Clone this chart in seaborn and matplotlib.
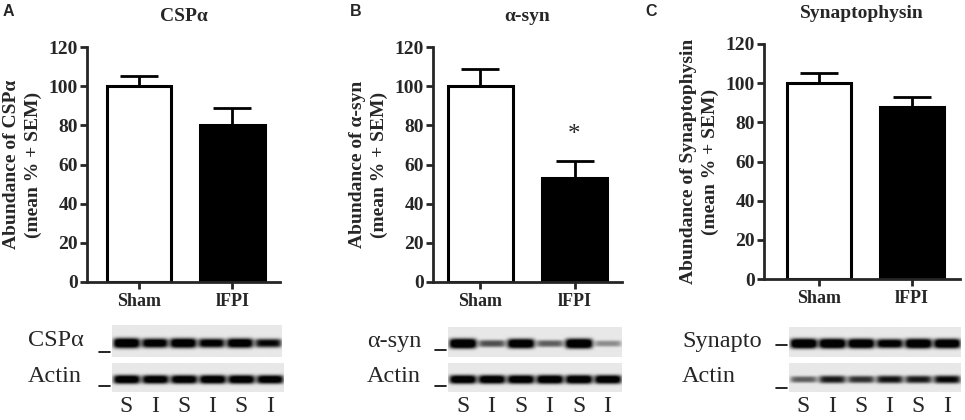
import numpy as np
import pandas as pd
import matplotlib
matplotlib.use("Agg")
import matplotlib.pyplot as plt
import seaborn as sns

# bar data (mean % and SEM)
groups = ["Sham", "lFPI"]
cspa_mean = [100, 80]
cspa_sem = [5, 9]
asyn_mean = [100, 53]
asyn_sem = [9, 9]
syp_mean = [100, 88]
syp_sem = [5, 5]

titles = ["CSP\u03b1", "\u03b1-syn", "Synaptophysin"]
ylabels = ["Abundance of CSP\u03b1\n(mean % + SEM)",
           "Abundance of \u03b1-syn\n(mean % + SEM)",
           "Abundance of Synaptophysin\n(mean % + SEM)"]
letters = ["A", "B", "C"]

# blot band intensities (0 = none, 1 = black), lanes S I S I S I
lane_labels = ["S", "I", "S", "I", "S", "I"]
cspa_bands = [0.97, 0.86, 0.93, 0.82, 0.9, 0.74]
cspa_actin = [0.9, 0.88, 0.88, 0.9, 0.9, 0.88]
asyn_bands = [1.0, 0.5, 0.95, 0.45, 1.0, 0.3]
asyn_actin = [0.9, 0.9, 0.9, 0.92, 0.92, 0.9]
syp_bands = [1.0, 1.0, 0.97, 0.86, 0.98, 0.95]
syp_actin = [0.45, 0.68, 0.6, 0.7, 0.68, 0.75]
blot_names = [("CSP\u03b1", "Actin"), ("\u03b1-syn", "Actin"), ("Synapto", "Actin")]

W, H = 965, 420
SERIF = "Liberation Serif"

sns.set_style("white")
plt.rcParams["font.family"] = [SERIF, "DejaVu Serif"]

fig = plt.figure(figsize=(W / 100, H / 100), dpi=100)


def rect(l, t, r, b):
    return [l / W, 1 - b / H, (r - l) / W, (b - t) / H]


def blot_image(intens, n_rows=30, lane_w=29, yc=0.55):
    y = np.arange(n_rows)[:, None]
    x = np.arange(lane_w * len(intens))[None, :]
    img = np.zeros((n_rows, x.size))
    for i, a in enumerate(intens):
        xc = (i + 0.5) * lane_w
        sy = 2.2 + 2.6 * a
        img += a * np.exp(-((x - xc) / (lane_w * 0.47)) ** 6) * np.exp(-np.abs((y - yc * n_rows) / sy) ** 3)
    return 0.91 - 0.9 * np.clip(1.35 * img, 0, 1)


# layout (pixel geometry per panel)
panels = [
    dict(ax=(87, 47, 280, 282), xlim=(-0.56, 1.51), mean=cspa_mean, sem=cspa_sem,
         b1=(112, 325, 282, 357), b2=(112, 363, 284, 392), lx=28, dash=(352, 386),
         bands=cspa_bands, actin=cspa_actin, letter_x=3),
    dict(ax=(433, 47, 622, 282), xlim=(-0.505, 1.505), mean=asyn_mean, sem=asyn_sem,
         b1=(448, 327, 622, 357), b2=(448, 363, 622, 392), lx=367, dash=(350, 386),
         bands=asyn_bands, actin=asyn_actin, letter_x=350),
    dict(ax=(764, 44, 960, 279), xlim=(-0.59, 1.52), mean=syp_mean, sem=syp_sem,
         b1=(789, 327, 961, 357), b2=(789, 363, 961, 392), lx=682, dash=(345, 388),
         bands=syp_bands, actin=syp_actin, letter_x=645),
]

for k, p in enumerate(panels):
    ax = fig.add_axes(rect(*p["ax"]))
    df = pd.DataFrame({"group": groups, "value": p["mean"]})
    sns.barplot(data=df, x="group", y="value", hue="group",
                palette={"Sham": "white", "lFPI": "black"}, edgecolor="black",
                linewidth=2.2, width=0.69, errorbar=None, legend=False, ax=ax)
    ax.errorbar(x=[0, 1], y=p["mean"], yerr=[[0, 0], p["sem"]], fmt="none",
                ecolor="black", elinewidth=2, capsize=14, capthick=2, zorder=3)
    ax.set_ylim(0, 120)
    ax.set_xlim(*p["xlim"])
    ax.set_yticks(range(0, 121, 20))
    sns.despine(ax=ax)
    for s in ["left", "bottom"]:
        ax.spines[s].set_linewidth(2)
    ax.tick_params(direction="out", length=5, width=2, labelsize=14, pad=1.5,
                   left=True, bottom=True)
    ax.tick_params(axis="x", labelsize=13, pad=3)
    for lbl in ax.get_xticklabels() + ax.get_yticklabels():
        lbl.set_fontweight("bold")
    ax.set_xlabel("")
    ax.set_ylabel(ylabels[k], fontsize=14, fontweight="bold", linespacing=1.3, labelpad=5)
    ax.set_title(titles[k], fontsize=14, fontweight="bold", pad=19)
    if k == 1:
        ax.text(1, 75, "*", ha="center", va="center", fontsize=18)
    fig.text(p["letter_x"] / W, 1 - 12 / H, letters[k], fontsize=11.5, fontweight="bold",
             family="Liberation Sans", va="center", ha="left")

    # western blots
    for j, (box, vals) in enumerate([(p["b1"], p["bands"]), (p["b2"], p["actin"])]):
        bx = fig.add_axes(rect(*box))
        bx.imshow(blot_image(vals), cmap="gray", vmin=0, vmax=1, aspect="auto",
                  interpolation="bilinear")
        for s in bx.spines.values():
            s.set_visible(False)
        bx.set_yticks([])
        lane_w = 29
        if j == 1:
            bx.set_xticks([(i + 0.5) * lane_w - 0.5 for i in range(6)])
            bx.set_xticklabels(lane_labels, fontsize=17)
            bx.tick_params(axis="x", length=0, pad=3)
        else:
            bx.set_xticks([])
        yc = (box[1] + box[3]) / 2
        fig.text(p["lx"] / W, 1 - (yc - 1) / H, blot_names[k][j], fontsize=17.5,
                 ha="left", va="center")
        dy = p["dash"][j]
        fig.add_artist(plt.Line2D([(box[0] - 13) / W, (box[0] - 2) / W],
                                  [1 - dy / H, 1 - dy / H], color="black", lw=1.2))

fig.savefig("out.png", dpi=100)
